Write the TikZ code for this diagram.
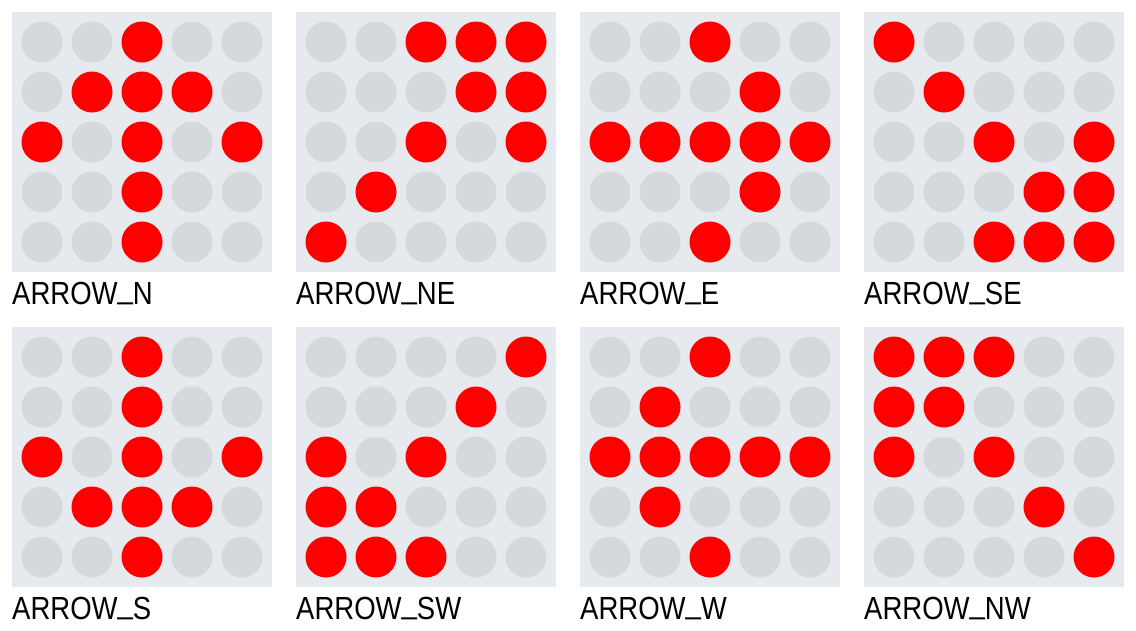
\documentclass[tikz,border=0pt]{standalone}
\usepackage{fontspec}
\setmainfont{Liberation Sans}[FakeStretch=0.86]
\usepackage{xcolor}

\definecolor{panelbg}{RGB}{230,233,238}
\definecolor{dotoff}{RGB}{213,216,221}
\definecolor{doton}{RGB}{255,0,0}
\colorlet{led0}{dotoff}
\colorlet{led1}{doton}

% 5x5 patterns, top row first
\def\patN{{0,0,1,0,0},{0,1,1,1,0},{1,0,1,0,1},{0,0,1,0,0},{0,0,1,0,0}}
\def\patNE{{0,0,1,1,1},{0,0,0,1,1},{0,0,1,0,1},{0,1,0,0,0},{1,0,0,0,0}}
\def\patE{{0,0,1,0,0},{0,0,0,1,0},{1,1,1,1,1},{0,0,0,1,0},{0,0,1,0,0}}
\def\patSE{{1,0,0,0,0},{0,1,0,0,0},{0,0,1,0,1},{0,0,0,1,1},{0,0,1,1,1}}
\def\patS{{0,0,1,0,0},{0,0,1,0,0},{1,0,1,0,1},{0,1,1,1,0},{0,0,1,0,0}}
\def\patSW{{0,0,0,0,1},{0,0,0,1,0},{1,0,1,0,0},{1,1,0,0,0},{1,1,1,0,0}}
\def\patW{{0,0,1,0,0},{0,1,0,0,0},{1,1,1,1,1},{0,1,0,0,0},{0,0,1,0,0}}
\def\patNW{{1,1,1,0,0},{1,1,0,0,0},{1,0,1,0,0},{0,0,0,1,0},{0,0,0,0,1}}

\tikzset{
  panel/.style={fill=panelbg, draw=none, minimum size=260pt, inner sep=0pt, anchor=north west},
  led/.style={circle, minimum size=41pt, inner sep=0pt, draw=none},
  caption/.style={anchor=base west, inner sep=0pt, font=\fontsize{32}{36}\selectfont},
}

\begin{document}
\begin{tikzpicture}[x=1pt, y=-1pt]
    \useasboundingbox (0,0) rectangle (1136,630);
    \foreach \name [count=\k from 0] in {N,NE,E,SE,S,SW,W,NW} {
        \pgfmathsetmacro{\px}{12+284*mod(\k,4)}
        \pgfmathsetmacro{\py}{12+315*int(\k/4)}
        \node[panel] (p\name) at (\px,\py) {};
        \expandafter\let\expandafter\bits\csname pat\name\endcsname
        \foreach \row [count=\r from 0] in \bits {
            \foreach \b [count=\c from 0] in \row {
                \node[led, fill=led\b] (p\name-\r-\c) at ({\px+30+50*\c},{\py+30+50*\r}) {};
            }
        }
        \node[caption] (l\name) at ([yshift=-32pt]p\name.south west) {ARROW\raisebox{0.17em}{\_}\name};
    }
\end{tikzpicture}
\end{document}
